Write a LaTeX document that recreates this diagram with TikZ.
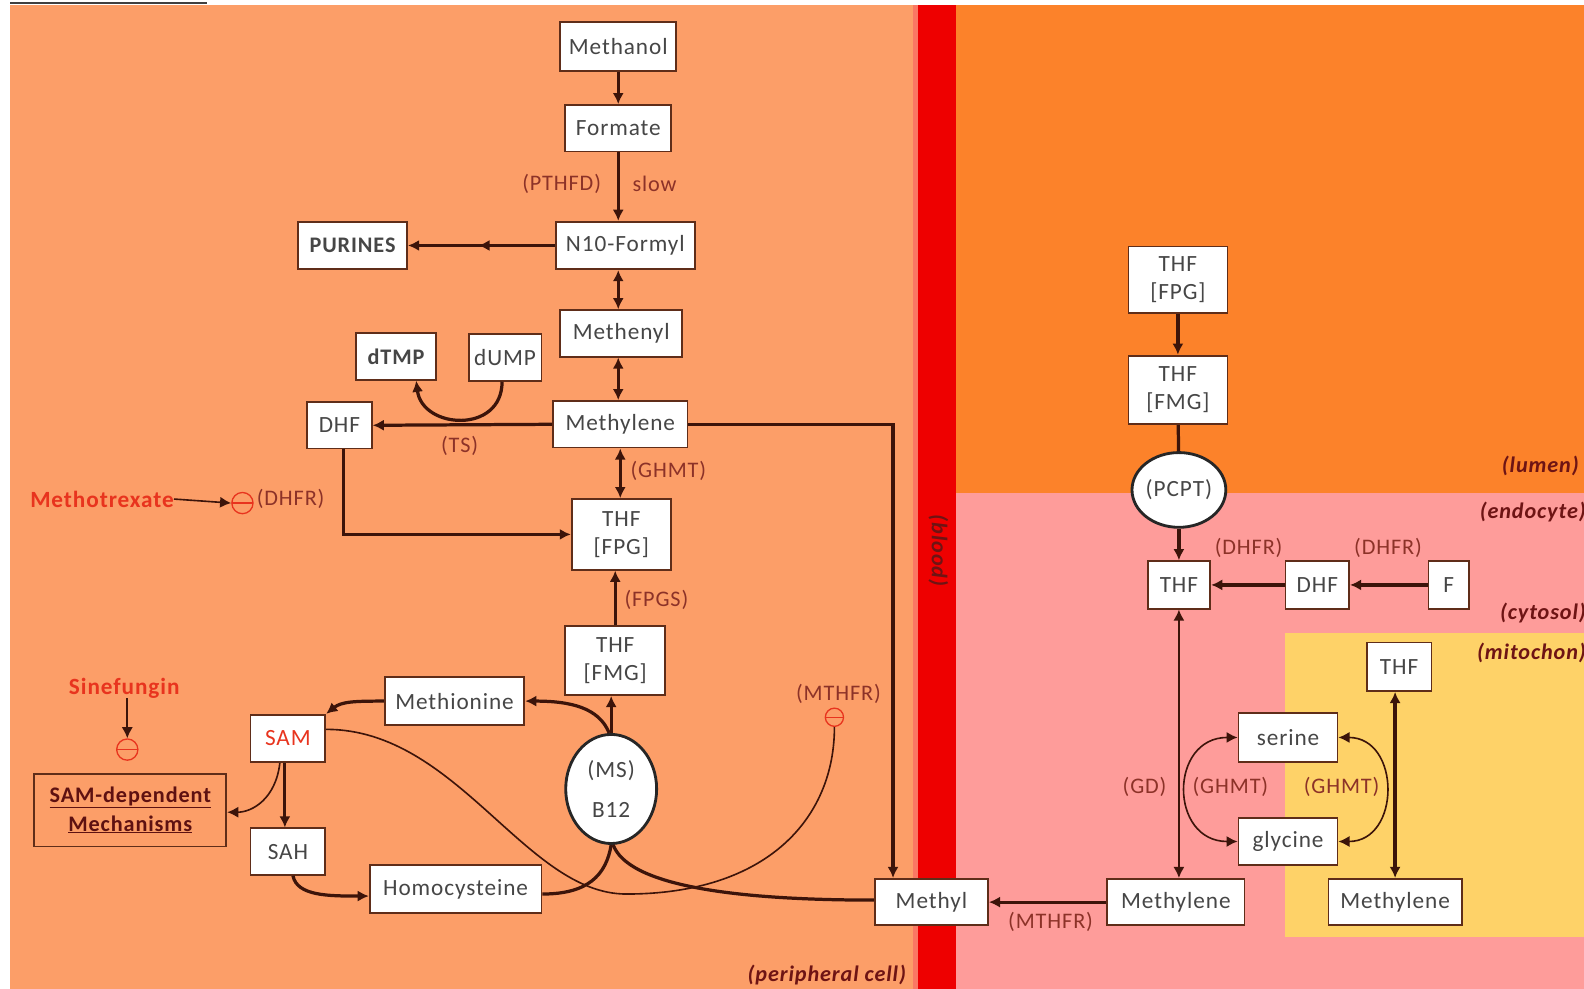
\documentclass[tikz,border=0pt]{standalone}
\usepackage{fontspec}
\setmainfont{Carlito}[LetterSpace=4]
\usetikzlibrary{arrows.meta,shapes.geometric,decorations.markings}
\definecolor{periph}{RGB}{252,158,104}
\definecolor{lumen}{RGB}{252,130,42}
\definecolor{endo}{RGB}{254,156,154}
\definecolor{mito}{RGB}{254,210,104}
\definecolor{blood}{RGB}{238,0,0}
\definecolor{bloodedge}{RGB}{250,120,100}
\definecolor{boxc}{RGB}{95,45,25}
\definecolor{arrc}{RGB}{60,20,10}
\definecolor{txtc}{RGB}{70,70,70}
\definecolor{labc}{RGB}{140,50,40}
\definecolor{regc}{RGB}{110,20,20}
\definecolor{redt}{RGB}{232,52,30}
\begin{document}
\begin{tikzpicture}[x=1pt,y=-1pt,
  box/.style={draw=boxc, fill=white, line width=1.8pt, inner sep=0pt, font=\fontsize{23}{28}\selectfont, text=txtc, align=center},
  oval/.style={ellipse, draw=black!85, fill=white, line width=2.8pt, inner sep=0pt, font=\fontsize{23}{28}\selectfont, text=txtc, align=center},
  lab/.style={font=\fontsize{22}{24}\selectfont, text=labc, inner sep=0pt},
  reg/.style={font=\fontsize{22}{24}\selectfont\bfseries\itshape, text=regc, inner sep=0pt},
  redlab/.style={font=\fontsize{23}{24}\selectfont\bfseries, text=redt, inner sep=0pt},
  thk/.style={draw=arrc, line width=3.2pt},
  thn/.style={draw=arrc, line width=1.6pt},
  tip/.style={-{Latex[length=11pt,width=11pt]}},
  tips/.style={{Latex[length=11pt,width=11pt]}-{Latex[length=11pt,width=11pt]}},
  inh/.style={circle, draw=redt, line width=1.3pt, minimum size=21pt, inner sep=0pt,
    path picture={\draw[redt, line width=1.3pt] (path picture bounding box.west) -- (path picture bounding box.east);}}
]
\useasboundingbox (0,0) rectangle (1568,979);
% backgrounds
\fill[white] (0,0) rectangle (1568,979);
\fill[periph] (10,5) rectangle (912,979);
\fill[lumen] (946,5) rectangle (1568,488);
\fill[endo] (946,488) rectangle (1568,979);
\fill[mito] (1272,627) rectangle (1568,928);
\fill[bloodedge] (904,5) rectangle (910,979);
\fill[blood] (909,5) rectangle (946,979);
\draw[black!75, line width=2pt] (10,3) -- (205,3);

% region labels
\node[reg, anchor=east] (lperiph) at (897,965) {(peripheral cell)};
\node[reg, anchor=east] (llumen) at (1563,461) {(lumen)};
\node[reg, anchor=east] (lendo) at (1570,507) {(endocyte)};
\node[reg, anchor=east] (lcyto) at (1570,607) {(cytosol)};
\node[reg, anchor=east] (lmito) at (1570,646) {(mitochon)};
\node[reg, rotate=-90] (lblood) at (929,545) {(blood)};

% left nodes
\node[box, minimum width=115pt, minimum height=48pt] (methanol) at (612,46) {Methanol};
\node[box, minimum width=105pt, minimum height=46pt] (formate) at (612,127) {Formate};
\node[box, minimum width=138pt, minimum height=47pt] (nten) at (619,243) {N10-Formyl};
\node[box, minimum width=108pt, minimum height=47pt, font=\fontsize{22}{28}\selectfont\bfseries] (purines) at (349,243) {PURINES};
\node[box, minimum width=121pt, minimum height=46pt] (methenyl) at (615,330) {Methenyl};
\node[box, minimum width=79pt, minimum height=46pt, font=\fontsize{22}{28}\selectfont\bfseries] (dtmp) at (392,353) {dTMP};
\node[box, minimum width=72pt, minimum height=46pt] (dump) at (500,354) {dUMP};
\node[box, minimum width=64pt, minimum height=46pt] (dhfL) at (336,421) {DHF};
\node[box, minimum width=133pt, minimum height=46pt] (mtlL) at (614,420) {Methylene};
\node[box, minimum width=98pt, minimum height=70pt] (thffpgL) at (615,529) {THF\\{}[FPG]};
\node[box, minimum width=99pt, minimum height=68pt] (thffmgL) at (609,654) {THF\\{}[FMG]};
\node[box, minimum width=138pt, minimum height=47pt] (methionine) at (450,694) {Methionine};
\node[box, minimum width=74pt, minimum height=47pt, text=redt] (sam) at (285,731) {SAM};
\node[oval, minimum width=90pt, minimum height=108pt, font=\fontsize{23}{40}\selectfont] (ms) at (605,781) {(MS)\\B12};
\node[draw=boxc, line width=1.8pt, minimum width=190pt, minimum height=72pt, inner sep=0pt, align=center, text=regc!85!black, font=\fontsize{22}{28}\selectfont\bfseries] (samdep) at (129,802) {\underline{SAM-dependent}\\\underline{Mechanisms}};
\node[box, minimum width=74pt, minimum height=46pt] (sah) at (285,843) {SAH};
\node[box, minimum width=170pt, minimum height=48pt] (homocys) at (451,880) {Homocysteine};
\node[box, minimum width=112pt, minimum height=46pt] (methyl) at (922,893) {Methyl};

% right nodes
\node[box, minimum width=136pt, minimum height=46pt] (mtlC) at (1164,893) {Methylene};
\node[box, minimum width=132pt, minimum height=46pt] (mtlM) at (1381,893) {Methylene};
\node[box, minimum width=98pt, minimum height=66pt] (thffpgR) at (1166,277) {THF\\{}[FPG]};
\node[box, minimum width=98pt, minimum height=68pt] (thffmgR) at (1166,386) {THF\\{}[FMG]};
\node[oval, minimum width=90pt, minimum height=74pt] (pcpt) at (1167,485) {(PCPT)};
\node[box, minimum width=62pt, minimum height=47pt] (thfE) at (1167,579) {THF};
\node[box, minimum width=63pt, minimum height=47pt] (dhfR) at (1304,579) {DHF};
\node[box, minimum width=40pt, minimum height=47pt] (f) at (1434,579) {F};
\node[box, minimum width=64pt, minimum height=48pt] (thfM) at (1385,660) {THF};
\node[box, minimum width=98pt, minimum height=48pt] (serine) at (1275,730) {serine};
\node[box, minimum width=98pt, minimum height=46pt] (glycine) at (1275,833) {glycine};

% inhibitor marks and drug labels
\node[redlab] (mtx) at (101,494) {Methotrexate};
\node[inh] (inhA) at (240,498) {};
\node[lab, anchor=west] (ldhfrA) at (254,494) {(DHFR)};
\node[redlab] (sinef) at (123,681) {Sinefungin};
\node[inh] (inhB) at (126,742) {};
\node[lab] (lmthfrA) at (830,687) {(MTHFR)};
\node[inh, minimum size=18pt] (inhC) at (826,710) {};

% labels
\node[lab] (lpthfd) at (556,182) {(PTHFD)};
\node[lab] (lslow) at (648,182) {slow};
\node[lab] (lts) at (455,441) {(TS)};
\node[lab, anchor=west] (lghmtA) at (624,466) {(GHMT)};
\node[lab, anchor=west] (lfpgs) at (618,594) {(FPGS)};
\node[lab] (lmthfrB) at (1040,913) {(MTHFR)};
\node[lab] (ldhfrB) at (1236,542) {(DHFR)};
\node[lab] (ldhfrC) at (1374,542) {(DHFR)};
\node[lab] (lgd) at (1133,779) {(GD)};
\node[lab] (lghmtB) at (1218,779) {(GHMT)};
\node[lab] (lghmtC) at (1328,779) {(GHMT)};

% left connectors
\draw[thk, tip] (methanol) -- (formate);
\draw[thk, tip] (formate) -- (nten.north -| formate);
\draw[thk, tip, postaction={decorate}, decoration={markings, mark=at position 0.52 with {\arrow{Latex[length=11pt,width=11pt]}}}] (nten.west) -- (purines.east);
\draw[thk, tips] (nten.south -| formate) -- (methenyl.north -| formate);
\draw[thk, tips] (methenyl.south -| formate) -- (mtlL.north -| formate);
\draw[thk, tip] (mtlL.west) -- (dhfL.east);
\draw[thk, tip] ([xshift=-3pt]dump.south) .. controls +(0,52) and +(6,48) .. ([xshift=20pt]dtmp.south);
\draw[thk, tips] (mtlL.south) -- (thffpgL.north -| mtlL);
\draw[thk, tip] ([xshift=4pt]dhfL.south) |- (thffpgL.west);
\draw[thk, tip] (thffmgL) -- (thffpgL.south -| thffmgL);
\draw[thk, tip] (mtlL.east) -| ([xshift=-38pt]methyl.north);
\draw[thk, tip] (ms.north) -- (thffmgL.south -| ms.north);
\draw[thk, tip] ([xshift=-2pt]ms.north) .. controls +(-10,-25) and +(45,0) .. (methionine.east);
\draw[thk, tip] (methionine.west) .. controls +(-30,0) and +(15,-12) .. (sam.north east);
\draw[thk, tip] ([xshift=-3pt]sam.south) -- ([xshift=-3pt]sah.north);
\draw[thn, tip] ([xshift=-8pt]sam.south) .. controls +(-4,35) and +(25,0) .. ([yshift=-2pt]samdep.east);
\draw[thk, tip] ([xshift=5pt]sah.south) .. controls +(4,20) and +(-40,0) .. ([yshift=-7pt]homocys.west);
\draw[thk] ([yshift=-5pt]homocys.east) .. controls +(45,0) and +(-5,30) .. (ms.south);
\draw[thk] ([xshift=2pt]ms.south) .. controls +(15,40) and +(-140,0) .. ([yshift=2pt]methyl.west);
\draw[thn] ([yshift=9pt]sam.east) .. controls +(130,0) and +(-100,0) .. (620,885) .. controls +(140,0) and +(0,90) .. (inhC.south);
\draw[thk, tip] (mtlC.west) -- (methyl.east);
\draw[thn, tip] (sinef.south -| inhB) -- (inhB.north);
\draw[thn, tip] (mtx.east) -- (inhA.west);

% right connectors
\draw[thk, tip] (thffpgR) -- (thffmgR);
\draw[thk] (thffmgR) -- (pcpt);
\draw[thk, tip] (pcpt) -- (thfE);
\draw[thk, tip] (dhfR) -- (thfE);
\draw[thk, tip] (f) -- (dhfR);
\draw[thn, tips] (thfE.south) -- (mtlC.north -| thfE);
\draw[thn, tips] (serine.west) .. controls +(-68,0) and +(-68,0) .. (glycine.west);
\draw[thn, tips] (serine.east) .. controls +(62,0) and +(62,0) .. (glycine.east);
\draw[thk, tips] (thfM.south -| mtlM) -- (mtlM.north);
\end{tikzpicture}
\end{document}
